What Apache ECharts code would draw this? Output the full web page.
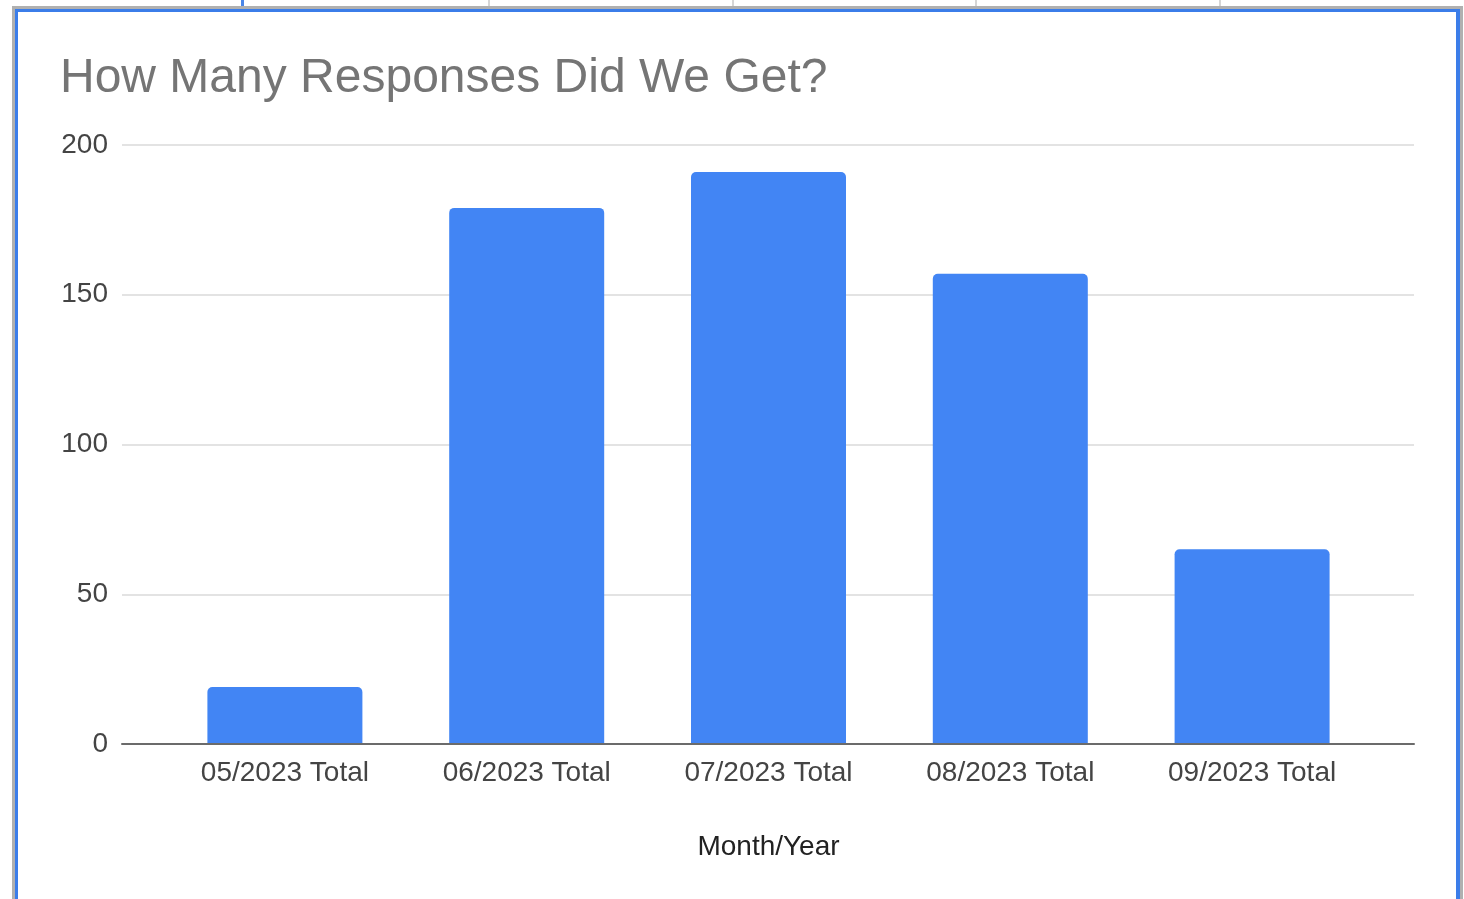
<!DOCTYPE html>
<html>
<head>
<meta charset="utf-8">
<title>How Many Responses Did We Get?</title>
<script src="https://cdn.jsdelivr.net/npm/echarts@6/dist/echarts.min.js"></script>
<style>
  html, body { margin: 0; padding: 0; background: #ffffff; }
  #wrap { position: relative; width: 1464px; height: 899px; overflow: hidden; background: #ffffff; }
  #chart { position: absolute; left: 0; top: 0; width: 1464px; height: 899px; }
  /* spreadsheet cells peeking above the embedded chart */
  .cell { position: absolute; top: 0; height: 7px; width: 2px; background: #d6d6d6; }
  .cell.sel { background: #4a86e8; width: 3px; }
  /* chart frame: grey outer edge, blue selection edge */
  .edge { position: absolute; pointer-events: none; }
</style>
</head>
<body>
<div id="wrap">
  <div id="chart"></div>
  <div class="cell sel" style="left:241px"></div>
  <div class="cell" style="left:488px"></div>
  <div class="cell" style="left:732px"></div>
  <div class="cell" style="left:975px"></div>
  <div class="cell" style="left:1219px"></div>
  <!-- grey outer edge -->
  <div class="edge" style="left:12px; top:6px; width:1451px; height:3px; background:#b0b0b0"></div>
  <div class="edge" style="left:12px; top:6px; width:3px; height:893px; background:#b0b0b0"></div>
  <div class="edge" style="left:1460px; top:6px; width:3px; height:893px; background:#b0b0b0"></div>
  <!-- blue selection edge -->
  <div class="edge" style="left:15px; top:9px; width:1445px; height:3px; background:#3b7de9"></div>
  <div class="edge" style="left:15px; top:9px; width:3px; height:890px; background:#3b7de9"></div>
  <div class="edge" style="left:1456px; top:9px; width:4px; height:890px; background:#3b7de9"></div>
</div>
<script>
// Monthly response totals
const categories = ['05/2023 Total', '06/2023 Total', '07/2023 Total', '08/2023 Total', '09/2023 Total'];
const responses = [19, 179, 191, 157, 65];
const yTicks = { min: 0, max: 200, interval: 50 };

const chart = echarts.init(document.getElementById('chart'), null, { renderer: 'canvas' });

const font = 'Liberation Sans, Arial, sans-serif';

chart.setOption({
  animation: false,
  backgroundColor: 'transparent',
  title: {
    text: 'How Many Responses Did We Get?',
    left: 60,
    top: 55,
    padding: 0,
    textStyle: { fontFamily: font, fontSize: 48, fontWeight: 'normal', color: '#757575' }
  },
  grid: [
    // bars and category labels
    { left: 164, right: 91, top: 145, bottom: 155 },
    // full-width gridlines, value labels and baseline
    { left: 122, right: 50, top: 145, bottom: 155 }
  ],
  xAxis: [
    {
      type: 'category',
      gridIndex: 0,
      data: categories,
      axisLine: { show: false },
      axisTick: { show: false },
      axisLabel: { fontFamily: font, fontSize: 28, color: '#444444', margin: 15, interval: 0 },
      name: 'Month/Year',
      nameLocation: 'middle',
      nameGap: 89,
      nameTextStyle: { fontFamily: font, fontSize: 28, color: '#222222' }
    },
    {
      type: 'value',
      gridIndex: 1,
      min: 0,
      max: 1,
      z: 5,
      axisLine: { show: true, onZero: false, lineStyle: { color: '#6b6b6b', width: 2 } },
      axisTick: { show: false },
      axisLabel: { show: false },
      splitLine: { show: false }
    }
  ],
  yAxis: [
    {
      type: 'value',
      gridIndex: 0,
      min: yTicks.min,
      max: yTicks.max,
      interval: yTicks.interval,
      axisLine: { show: false },
      axisTick: { show: false },
      axisLabel: { show: false },
      splitLine: { show: false }
    },
    {
      type: 'value',
      gridIndex: 1,
      min: yTicks.min,
      max: yTicks.max,
      interval: yTicks.interval,
      axisLine: { show: false },
      axisTick: { show: false },
      axisLabel: { fontFamily: font, fontSize: 28, color: '#444444', margin: 14 },
      splitLine: { show: true, lineStyle: { color: '#e3e3e3', width: 2 } }
    }
  ],
  series: [
    {
      type: 'bar',
      xAxisIndex: 0,
      yAxisIndex: 0,
      data: responses,
      barWidth: 155,
      itemStyle: { color: '#4285f4', borderRadius: [5, 5, 0, 0] }
    }
  ]
});
</script>
</body>
</html>
